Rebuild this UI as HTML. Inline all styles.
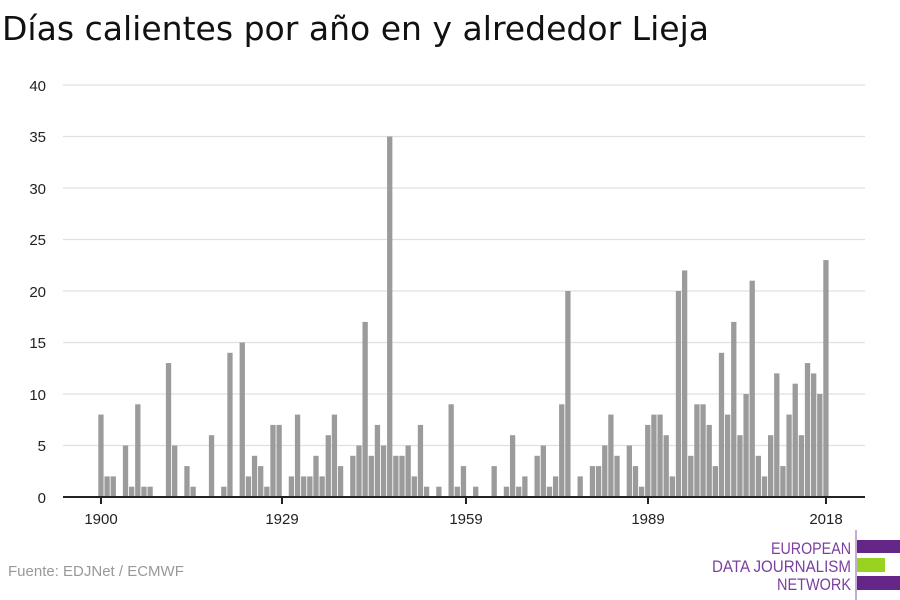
<!DOCTYPE html>
<html><head><meta charset="utf-8"><style>
body{margin:0;background:#fff;}
svg{display:block;font-family:"Liberation Sans","DejaVu Sans",sans-serif;}
</style></head><body>
<svg width="900" height="600" xmlns="http://www.w3.org/2000/svg">
<text x="2" y="40" font-size="33" fill="#111" textLength="707" lengthAdjust="spacingAndGlyphs" style="font-family:'DejaVu Sans',sans-serif">Días calientes por año en y alrededor Lieja</text>
<g stroke="#e0e0e0" stroke-width="1.3">
<line x1="63" x2="865" y1="85" y2="85"/><line x1="63" x2="865" y1="136.5" y2="136.5"/>
<line x1="63" x2="865" y1="188" y2="188"/><line x1="63" x2="865" y1="239.5" y2="239.5"/>
<line x1="63" x2="865" y1="291" y2="291"/><line x1="63" x2="865" y1="342.5" y2="342.5"/>
<line x1="63" x2="865" y1="394" y2="394"/><line x1="63" x2="865" y1="445.5" y2="445.5"/>
</g>
<g font-size="15" fill="#222" text-anchor="end">
<text x="46" y="91">40</text><text x="46" y="142">35</text><text x="46" y="194">30</text>
<text x="46" y="245">25</text><text x="46" y="297">20</text><text x="46" y="348">15</text>
<text x="46" y="400">10</text><text x="46" y="451">5</text><text x="46" y="503">0</text>
</g>
<g id="bars" fill="#9b9b9b"></g>
<line x1="63" x2="865" y1="497" y2="497" stroke="#222" stroke-width="2"/>
<g stroke="#222" stroke-width="2">
<line x1="101" x2="101" y1="497" y2="504"/><line x1="282" x2="282" y1="497" y2="504"/>
<line x1="466" x2="466" y1="497" y2="504"/><line x1="648" x2="648" y1="497" y2="504"/>
<line x1="826" x2="826" y1="497" y2="504"/>
</g>
<g font-size="15" fill="#222" text-anchor="middle">
<text x="101" y="524">1900</text><text x="282" y="524">1929</text><text x="466" y="524">1959</text>
<text x="648" y="524">1989</text><text x="826" y="524">2018</text>
</g>
<text x="8" y="576" font-size="15" fill="#999">Fuente: EDJNet / ECMWF</text>
<line x1="856" x2="856" y1="530" y2="600" stroke="#8a5aa8" stroke-width="1"/>
<rect x="857" y="540" width="43" height="13" fill="#652787"/>
<rect x="857" y="558" width="28" height="14" fill="#97d320"/>
<rect x="857" y="576" width="43" height="14" fill="#652787"/>
<g font-size="17" fill="#7b3f9e" text-anchor="end">
<text x="851" y="554" textLength="80" lengthAdjust="spacingAndGlyphs">EUROPEAN</text>
<text x="851" y="572" textLength="139" lengthAdjust="spacingAndGlyphs">DATA JOURNALISM</text>
<text x="851" y="590" textLength="74" lengthAdjust="spacingAndGlyphs">NETWORK</text>
</g>
</svg>
<script>
var d={1900:8,1901:2,1902:2,1904:5,1905:1,1906:9,1907:1,1908:1,1911:13,1912:5,1914:3,1915:1,1918:6,1920:1,1921:14,1923:15,1924:2,1925:4,1926:3,1927:1,1928:7,1929:7,1931:2,1932:8,1933:2,1934:2,1935:4,1936:2,1937:6,1938:8,1939:3,1941:4,1942:5,1943:17,1944:4,1945:7,1946:5,1947:35,1948:4,1949:4,1950:5,1951:2,1952:7,1953:1,1955:1,1957:9,1958:1,1959:3,1961:1,1964:3,1966:1,1967:6,1968:1,1969:2,1971:4,1972:5,1973:1,1974:2,1975:9,1976:20,1978:2,1980:3,1981:3,1982:5,1983:8,1984:4,1986:5,1987:3,1988:1,1989:7,1990:8,1991:8,1992:6,1993:2,1994:20,1995:22,1996:4,1997:9,1998:9,1999:7,2000:3,2001:14,2002:8,2003:17,2004:6,2005:10,2006:21,2007:4,2008:2,2009:6,2010:12,2011:3,2012:8,2013:11,2014:6,2015:13,2016:12,2017:10,2018:23};
var g=document.getElementById('bars'),s='';
for(var y in d){var x=101+(y-1900)*6.144-2.7,h=d[y]*10.3;
s+='<rect x="'+x.toFixed(2)+'" y="'+(497-h).toFixed(2)+'" width="5.3" height="'+h.toFixed(2)+'"/>';}
g.innerHTML=s;
</script>
</body></html>
